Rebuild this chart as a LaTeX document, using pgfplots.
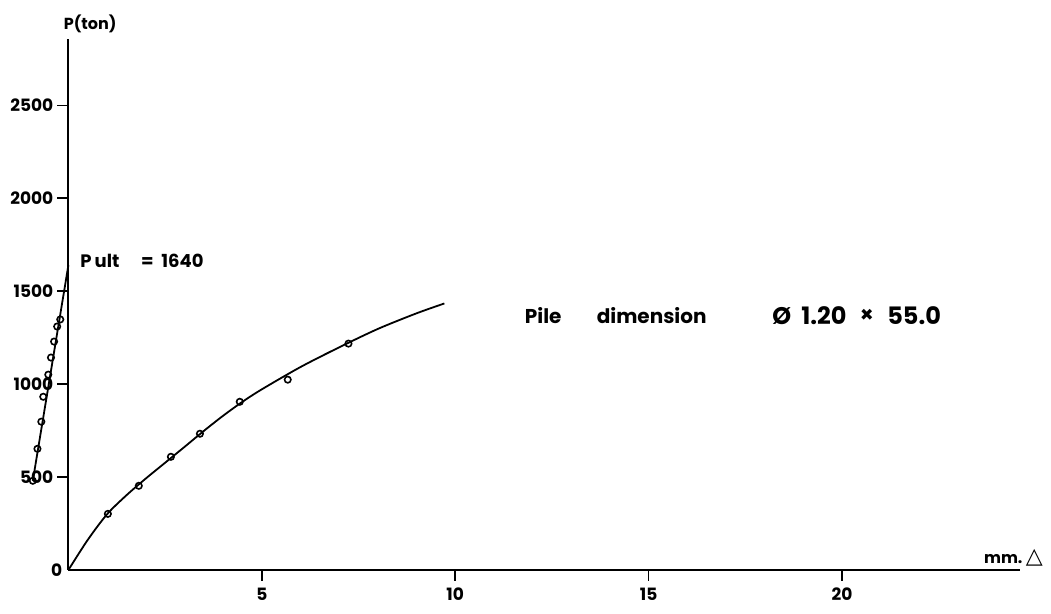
\documentclass[border=0pt]{standalone}
\usepackage{fontspec}
\setmainfont{Poppins}
\newfontfamily\symfont{DejaVu Sans}
\usepackage{pgfplots}
\pgfplotsset{compat=1.18}
\begin{document}
\begin{tikzpicture}
\begin{axis}[
  scale only axis, width=475.8pt, height=265.5pt,
  xmin=0, xmax=24.6, ymin=0, ymax=2857,
  axis lines=left,
  axis line style={line width=1pt, -},
  clip=false,
  xtick={5,10,15,20},
  ytick={500,1000,1500,2000,2500},
  tick align=outside,
  major tick length=5.5pt,
  tick style={line width=0.8pt, black},
  ticklabel style={font=\bfseries\fontsize{8.5}{10}\selectfont},
  yticklabel style={xshift=1.5pt},
  /pgf/number format/assume math mode=true,
  /pgf/number format/1000 sep={},
]
% main load-settlement curve
\addplot[line width=0.9pt, smooth, no markers] coordinates {
(0,0) (0.5,162) (1,300) (1.5,402) (2,492) (2.5,577) (3,662) (3.5,748)
(4,830) (4.5,905) (5,972) (6,1092) (7,1198) (8,1297) (9,1381) (9.72,1434)};
\addplot[only marks, mark=o, mark size=1.6pt, mark options={line width=0.8pt}] coordinates {
(1.02,302) (1.82,453) (2.65,609) (3.40,733) (4.43,905) (5.67,1024) (7.24,1218)};
% Pult extrapolation line
\addplot[line width=0.9pt, no markers] coordinates {(-0.92,480) (0,1640)};
\addplot[only marks, mark=o, mark size=1.6pt, mark options={line width=0.8pt}] coordinates {
(-0.92,480) (-0.80,652) (-0.70,798) (-0.65,932) (-0.52,1051) (-0.45,1143) (-0.37,1229) (-0.29,1310) (-0.21,1348)};
\node[anchor=east, inner sep=0pt, font=\bfseries\fontsize{8.5}{10}\selectfont] at (axis cs:-0.15,0) {0};
\node[anchor=south west, inner sep=0pt, font=\bfseries\fontsize{8}{10}\selectfont] at (axis cs:-0.13,2890) {P(ton)};
\node[anchor=west, inner sep=0pt, font=\bfseries\fontsize{9}{10}\selectfont] at (axis cs:0.30,1665) {P\,ult\quad\ =\ \ 1640};
\node[anchor=west, inner sep=0pt, font=\bfseries\fontsize{10}{11}\selectfont] at (axis cs:11.79,1369) {Pile};
\node[anchor=west, inner sep=0pt, font=\bfseries\fontsize{10}{11}\selectfont] at (axis cs:13.65,1369) {dimension};
\node[anchor=west, inner sep=0pt, font=\bfseries\fontsize{12}{13}\selectfont] at (axis cs:18.19,1369) {Ø};
\node[anchor=west, inner sep=0pt, font=\bfseries\fontsize{12}{13}\selectfont] at (axis cs:18.94,1369) {1.20};
\node[anchor=west, inner sep=0pt, font=\bfseries\fontsize{11}{13}\selectfont] at (axis cs:20.45,1369) {×};
\node[anchor=west, inner sep=0pt, font=\bfseries\fontsize{12}{13}\selectfont] at (axis cs:21.16,1369) {55.0};
\node[anchor=south east, inner sep=0pt, font=\bfseries\fontsize{8}{10}\selectfont] at (axis cs:25.2,20) {mm.\ {\symfont\fontsize{11}{12}\selectfont △}};
\end{axis}
\path[use as bounding box] (-34.2pt,-22pt) rectangle (491.3pt,285pt);
\end{tikzpicture}
\end{document}
